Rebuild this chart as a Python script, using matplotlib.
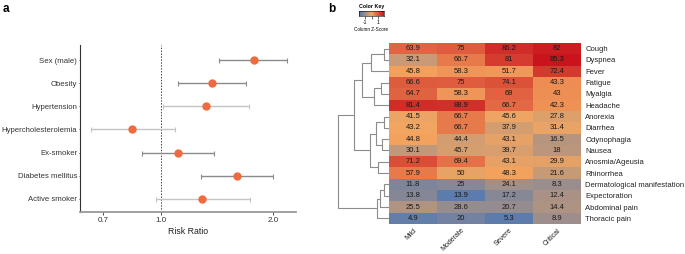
import numpy as np
import matplotlib
matplotlib.use("Agg")
import matplotlib.pyplot as plt
from matplotlib.colors import LinearSegmentedColormap

plt.rcParams['font.family'] = ['Liberation Sans', 'DejaVu Sans']

# ---- panel a: risk ratios ----
factors = ["Active smoker", "Diabetes mellitus", "Ex-smoker", "Hypercholesterolemia",
           "Hypertension", "Obesity", "Sex (male)"]
rr = [1.29, 1.60, 1.11, 0.837, 1.32, 1.37, 1.77]
ci_low = [0.966, 1.28, 0.889, 0.647, 1.01, 1.11, 1.43]
ci_high = [1.73, 2.00, 1.39, 1.09, 1.72, 1.69, 2.18]
rr_ticks = [0.7, 1.0, 2.0]

# ---- panel b: symptom frequencies (%) by severity ----
symptoms = ["Cough", "Dyspnea", "Fever", "Fatigue", "Myalgia", "Headache", "Anorexia",
            "Diarrhea", "Odynophagia", "Nausea", "Anosmia/Ageusia", "Rhinorrhea",
            "Dermatological manifestation", "Expectoration", "Abdominal pain", "Thoracic pain"]
severity = ["Mild", "Moderate", "Severe", "Critical"]
mild = [63.9, 32.1, 45.8, 66.6, 64.7, 81.4, 41.5, 43.2, 44.8, 30.1, 71.2, 57.9, 11.8, 13.8, 25.5, 4.9]
moderate = [75, 66.7, 58.3, 75, 58.3, 88.9, 66.7, 66.7, 44.4, 45.7, 69.4, 50, 25, 13.9, 28.6, 20]
severe = [86.2, 81, 51.7, 74.1, 69, 66.7, 45.6, 37.9, 43.1, 39.7, 43.1, 48.3, 24.1, 17.2, 20.7, 5.3]
critical = [82, 85.3, 72.4, 43.3, 43, 42.3, 27.8, 31.4, 16.5, 18, 29.9, 21.6, 8.3, 12.4, 14.4, 8.9]

# row dendrogram (leaves 0..15, new clusters numbered from 16)
merge_left = [0, 16, 3, 18, 17, 6, 8, 21, 10, 23, 20, 12, 27, 28, 26]
merge_right = [1, 2, 4, 5, 19, 7, 9, 22, 11, 24, 25, 13, 14, 15, 29]
merge_height = [4.7, 17.7, 8.3, 15.0, 27.3, 4.7, 7.3, 13.0, 10.7, 19.3, 34.7, 5.0, 9.0, 12.3, 50.7]

W, H = 685, 254
fig = plt.figure(figsize=(W / 100, H / 100), dpi=100)


def box(x0, y0, x1, y1):
    return [x0 / W, 1 - y1 / H, (x1 - x0) / W, (y1 - y0) / H]


# ---------------- panel a ----------------
ax = fig.add_axes(box(80, 45, 296, 212))
y = np.arange(len(factors))
light = {"Active smoker", "Hypercholesterolemia", "Hypertension"}
for i, f in enumerate(factors):
    col = "#c4c4c4" if f in light else "#8a8a8a"
    ax.errorbar(rr[i], i, xerr=[[rr[i] - ci_low[i]], [ci_high[i] - rr[i]]],
                fmt='none', ecolor=col, elinewidth=1.0, capsize=1.8, capthick=0.8, zorder=2)
ax.plot(rr, y, 'o', color="#ef6b3f", markersize=5, zorder=3)
ax.axvline(1.0, color="#444444", linestyle=(0, (1.5, 1.5)), linewidth=0.7, zorder=1)
ax.set_xscale('log')
ax.set_xlim(0.606, 2.30)
ax.set_ylim(-0.57, 6.65)
ax.set_xticks(rr_ticks)
ax.set_xticklabels([f"{t:.1f}" for t in rr_ticks])
ax.minorticks_off()
ax.set_yticks(y)
ax.set_yticklabels(factors)
ax.tick_params(axis='x', labelsize=5.8, length=2, width=0.6, colors="#333333", pad=1.5)
ax.tick_params(axis='y', labelsize=5.6, length=1, width=0.6, colors="#333333", pad=1)
ax.set_xlabel("Risk Ratio", fontsize=6.3, labelpad=2, color="#222222")
for s in ["top", "right"]:
    ax.spines[s].set_visible(False)
ax.spines["left"].set_color("#333333")
ax.spines["left"].set_linewidth(0.8)
ax.spines["bottom"].set_color("#999999")
ax.spines["bottom"].set_linewidth(1.3)

fig.text(3 / W, 1 - 9 / H, "a", fontsize=8.5, fontweight='bold', va='center', ha='left')
fig.text(328 / W, 1 - 9 / H, "b", fontsize=8.5, fontweight='bold', va='center', ha='left')

# ---------------- panel b: heatmap ----------------
cmap = LinearSegmentedColormap.from_list("key", ["#4a77b5", "#f4a65f", "#c9141d"])
vals = np.array([mild, moderate, severe, critical]).T
z = (vals - vals.mean(axis=0)) / vals.std(axis=0, ddof=1)

hx = fig.add_axes(box(389, 43, 581, 224))
nrow, ncol = vals.shape
hx.pcolormesh(np.arange(ncol + 1), np.arange(nrow + 1), z, cmap=cmap, vmin=-2, vmax=2)
hx.set_xlim(0, ncol)
hx.set_ylim(nrow, 0)
for r in range(nrow):
    for c in range(ncol):
        hx.text(c + 0.5, r + 0.5, f"{vals[r, c]:g}", ha='center', va='center',
                fontsize=5.5, color="#1a1a1a")
hx.yaxis.tick_right()
hx.set_yticks(np.arange(nrow) + 0.5)
hx.set_yticklabels(symptoms)
hx.tick_params(axis='y', length=0, pad=3, labelsize=5.5, colors="#222222")
hx.set_xticks([])
for c, name in enumerate(severity):
    hx.text(c + 0.5, nrow + 0.25, name, rotation=45, ha='right', va='top',
            rotation_mode='anchor', fontsize=5, color="#222222")
for s in hx.spines.values():
    s.set_visible(False)

# ---------------- dendrogram ----------------
dx = fig.add_axes(box(337, 43, 389, 224))
pos = {i: i + 0.5 for i in range(nrow)}
hgt = {i: 0.0 for i in range(nrow)}
for k, (a, b, h) in enumerate(zip(merge_left, merge_right, merge_height)):
    node = nrow + k
    dx.plot([hgt[a], h, h, hgt[b]], [pos[a], pos[a], pos[b], pos[b]],
            color="#8c8c8c", linewidth=0.8, solid_capstyle='butt')
    pos[node] = (pos[a] + pos[b]) / 2
    hgt[node] = h
dx.set_xlim(52, 0)
dx.set_ylim(nrow, 0)
dx.axis('off')

# ---------------- color key ----------------
kx = fig.add_axes(box(359, 10.7, 384, 16))
grad = np.linspace(-2, 2, 200).reshape(1, -1)
kx.imshow(grad, cmap=cmap, aspect='auto', extent=[-2, 2, 0, 1], vmin=-2, vmax=2)
kx.set_yticks([])
kx.set_xticks([-1, 0, 1])
kx.set_xticklabels(["-1", "", "1"])
kx.tick_params(axis='x', labelsize=3.6, length=2, width=0.4, pad=1)
for s in kx.spines.values():
    s.set_linewidth(0.4)
kx.set_title("Color Key", fontsize=3.8, fontweight='bold', pad=2)
kx.set_xlabel("Column Z-Score", fontsize=3.3, labelpad=1.5)

fig.savefig("out.png", dpi=100)
